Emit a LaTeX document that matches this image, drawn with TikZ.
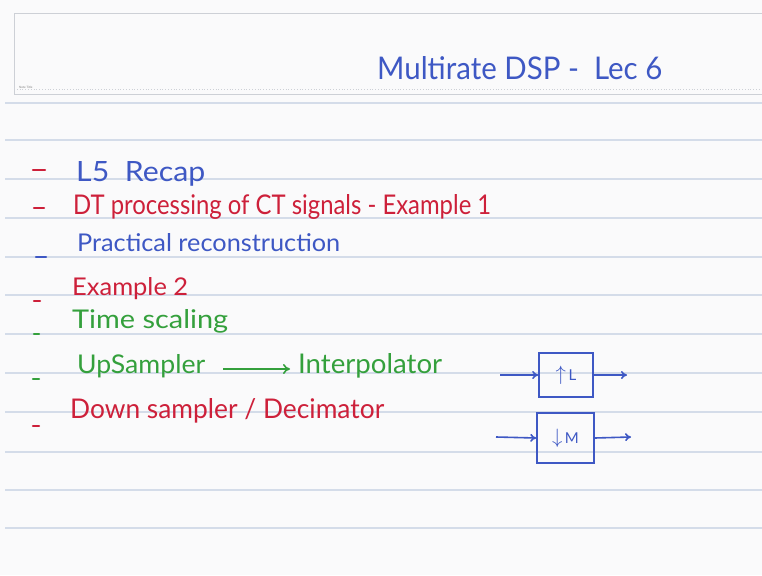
\documentclass[tikz,border=0pt]{standalone}
\usepackage{fontspec}
\setmainfont{Lato}
\usetikzlibrary{arrows.meta,calc}
\definecolor{paper}{RGB}{250,250,251}
\definecolor{rule}{RGB}{212,220,233}
\definecolor{inkblue}{RGB}{62,88,196}
\definecolor{inkred}{RGB}{205,32,58}
\definecolor{inkgreen}{RGB}{52,160,60}
\definecolor{framegray}{RGB}{205,208,214}
\newcommand{\fitwh}[3]{\resizebox{#1pt}{#2pt}{#3}}
\begin{document}
\begin{tikzpicture}[x=1pt,y=-1pt,
  ruleline/.style={rule,line width=1.4pt},
  item/.style={anchor=base west,inner sep=0pt,font=\fontsize{20}{24}\selectfont},
  dashmark/.style={line width=2.2pt,line cap=round},
  flow/.style={inkblue,line width=1.6pt,-{To[length=6pt,width=8pt]}},
  blockbox/.style={draw=inkblue,line width=1.6pt,inner sep=0pt,text=inkblue,font=\fontsize{15}{18}\selectfont}]
\useasboundingbox (0,0) rectangle (762,575);
\fill[paper] (0,0) rectangle (762,575);
% header frame
\draw[framegray,line width=1pt] (762,14) -- (14,14) -- (14,95) -- (762,95);
\draw[framegray,line width=0.8pt,dotted] (14,89) -- (762,89);
\node[anchor=west,inner sep=0pt,text=gray,font=\fontsize{3}{4}\selectfont] (nt) at (19,87) {Note Title};
% ruled lines
\foreach \yy in {103,140,179,218,257,295,334,373,412,452,490,528}
  \draw[ruleline] (5,\yy) -- (762,\yy);
% title
\node[item,text=inkblue] (title) at (377,80) {\fitwh{285}{23}{Multirate DSP -\ \ Lec 6}};
% dashes
\draw[dashmark,inkred] (33,170) -- (45,170);
\draw[dashmark,inkred] (34,208) -- (44,208);
\draw[dashmark,inkblue] (36,257) -- (46,257);
\draw[dashmark,inkred] (34,301) -- (40,301);
\draw[dashmark,inkgreen] (34,334) -- (39,334);
\draw[dashmark,inkgreen] (33,379) -- (39,379);
\draw[dashmark,inkred] (33,426) -- (39,426);
% items
\node[item,text=inkblue] (l1) at (76,181) {\fitwh{129}{20}{L5\ \ Recap}};
\node[item,text=inkred] (l2) at (73,214) {\fitwh{418}{20}{DT processing of CT signals - Example 1}};
\node[item,text=inkblue] (l3) at (77,251) {\fitwh{263}{18}{Practical reconstruction}};
\node[item,text=inkred] (l4) at (72,295) {\fitwh{116}{18}{Example 2}};
\node[item,text=inkgreen] (l5) at (72,328) {\fitwh{156}{19}{Time scaling}};
\node[item,text=inkgreen] (l6) at (77,373) {\fitwh{128}{19}{UpSampler}};
\node[item,text=inkgreen] (l7) at (298,373) {\fitwh{144}{20}{Interpolator}};
\node[item,text=inkred] (l8) at (70,418) {\fitwh{314}{20}{Down sampler / Decimator}};
\coordinate (ua) at (223,369);
\coordinate (ub) at (290,369);
\draw[inkgreen,line width=1.6pt,-{To[length=7pt,width=10pt]}] (ua) -- (ub);
% blocks
\node[blockbox,minimum width=54pt,minimum height=44pt] (up) at (566,375) {{\fontsize{20}{20}\selectfont$\uparrow$}\,L};
\node[blockbox,minimum width=57pt,minimum height=50pt] (dn) at (565.5,438) {{\fontsize{20}{20}\selectfont$\downarrow$}\,M};
\coordinate (upin) at (500,375);
\coordinate (upout) at (627,375);
\coordinate (dnin) at (496,437);
\coordinate (dnout) at (631,437);
\draw[flow] (upin) -- (up.west);
\draw[flow] (up.east) -- (upout);
\draw[flow] (dnin) -- (dn.west);
\draw[flow] (dn.east) -- (dnout);
\end{tikzpicture}
\end{document}
